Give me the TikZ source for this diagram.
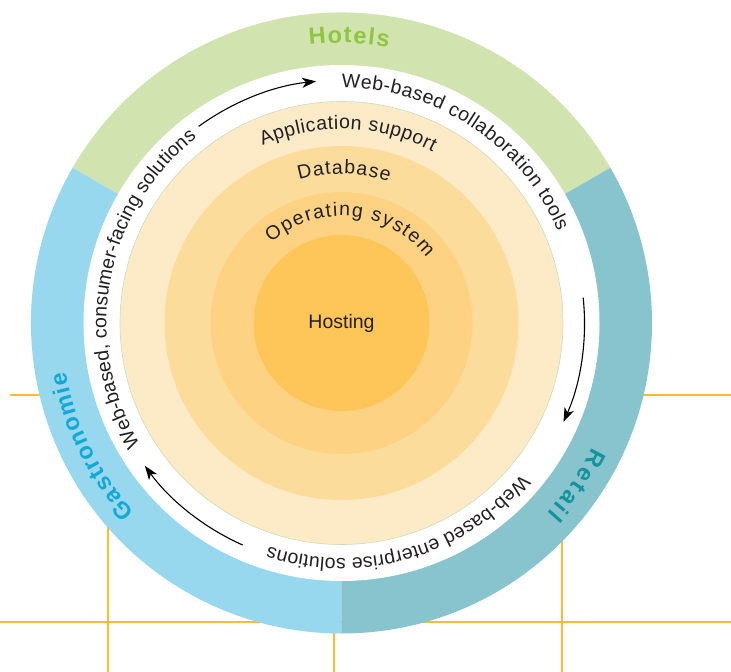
\documentclass[tikz,border=0pt]{standalone}
\usepackage{fontspec}
\setmainfont{Liberation Sans}
\usetikzlibrary{decorations.text,arrows.meta}

\definecolor{hotelgreen}{HTML}{D1E3AE}
\definecolor{hoteltext}{HTML}{8DC63F}
\definecolor{gastroblue}{HTML}{97D8EE}
\definecolor{gastrotext}{HTML}{14A8DA}
\definecolor{retailteal}{HTML}{88C4CD}
\definecolor{retailtext}{HTML}{13939D}
\definecolor{layerapp}{HTML}{FDEBC8}
\definecolor{layerdb}{HTML}{FCDC9B}
\definecolor{layeros}{HTML}{FDD383}
\definecolor{layerhost}{HTML}{FEC558}
\definecolor{rimgreen}{HTML}{C6DFB8}
\definecolor{gridorange}{HTML}{FBBB33}
\definecolor{inkgrey}{HTML}{231F20}

\newcommand\ringfont{\fontsize{19.5}{23}\selectfont\color{inkgrey}}
\newcommand\bandfont[1]{\fontsize{23.5}{27}\selectfont\bfseries\color{#1}}

\begin{document}
\begin{tikzpicture}[x=1pt,y=1pt,
    gridline/.style={draw=gridorange,line width=2.4pt},
    flowarrow/.style={draw=black,line width=1.1pt,-{Stealth[length=14pt,width=10pt,inset=4pt]}},
    ringtext/.style={decorate,decoration={text along path,text align=fit to path,text={|\ringfont|#1}}},
    bandlabel/.style 2 args={decorate,decoration={text along path,text align=fit to path,text={|\bandfont{#1}|#2}}}]
  \useasboundingbox (-341.5,-349) rectangle (389.5,323);

  % grid behind the rings
  \draw[gridline] (-331.5,-72) -- (389.5,-72);
  \draw[gridline] (-341.5,-299) -- (389.5,-299);
  \foreach \gx in {-233.5,-7.5,220.5}
    \draw[gridline] (\gx,-72) -- (\gx,-349);

  % outer sectors
  \fill[hotelgreen] (0,0) -- (30:310.5pt) arc[start angle=30,end angle=150,radius=310.5pt] -- cycle;
  \fill[gastroblue] (0,0) -- (150:310.5pt) arc[start angle=150,end angle=270,radius=310.5pt] -- cycle;
  \fill[retailteal] (0,0) -- (270:310.5pt) arc[start angle=270,end angle=390,radius=310.5pt] -- cycle;
  \fill[white] (0,0) circle[radius=258pt];

  % layers
  \filldraw[fill=layerapp,draw=rimgreen,line width=0.6pt] (0,0) circle[radius=221.5pt];
  \fill[layerdb] (0,0) circle[radius=177pt];
  \fill[layeros] (0,0) circle[radius=131pt];
  \fill[layerhost] (0,0) circle[radius=88pt];
  \node[font=\ringfont] (hosting) at (0,0) {Hosting};

  % layer labels
  \path[ringtext={Application support}] (114:194pt) arc[start angle=114,end angle=62,radius=194pt];
  \path[ringtext={Database}] (106.5:149pt) arc[start angle=106.5,end angle=71.5,radius=149pt];
  \path[ringtext={Operating system}] (131:107pt) arc[start angle=131,end angle=37.5,radius=107pt];

  % white ring: solutions and arrows
  \path[ringtext={Web-based collaboration tools}] (90:235pt) arc[start angle=90,end angle=23,radius=235pt];
  \path[ringtext={Web-based enterprise solutions}] (-40:235pt) arc[start angle=-40,end angle=-108,radius=235pt];
  \path[ringtext={Web-based, consumer-facing solutions}] (211:235pt) arc[start angle=211,end angle=128,radius=235pt];
  \foreach \a in {126,6,-114}
    \draw[flowarrow] (\a:243pt) arc[start angle=\a,end angle=\a-30,radius=243pt];

  % sector labels
  \path[bandlabel={hoteltext}{Hotels}] (96.6:280pt) arc[start angle=96.6,end angle=80.3,radius=280pt];
  \path[bandlabel={gastrotext}{Gastronomie}] (222.5:280pt) arc[start angle=222.5,end angle=190,radius=280pt];
  \path[bandlabel={retailtext}{Retail}] (-26.4:280pt) arc[start angle=-26.4,end angle=-42.8,radius=280pt];
\end{tikzpicture}
\end{document}
